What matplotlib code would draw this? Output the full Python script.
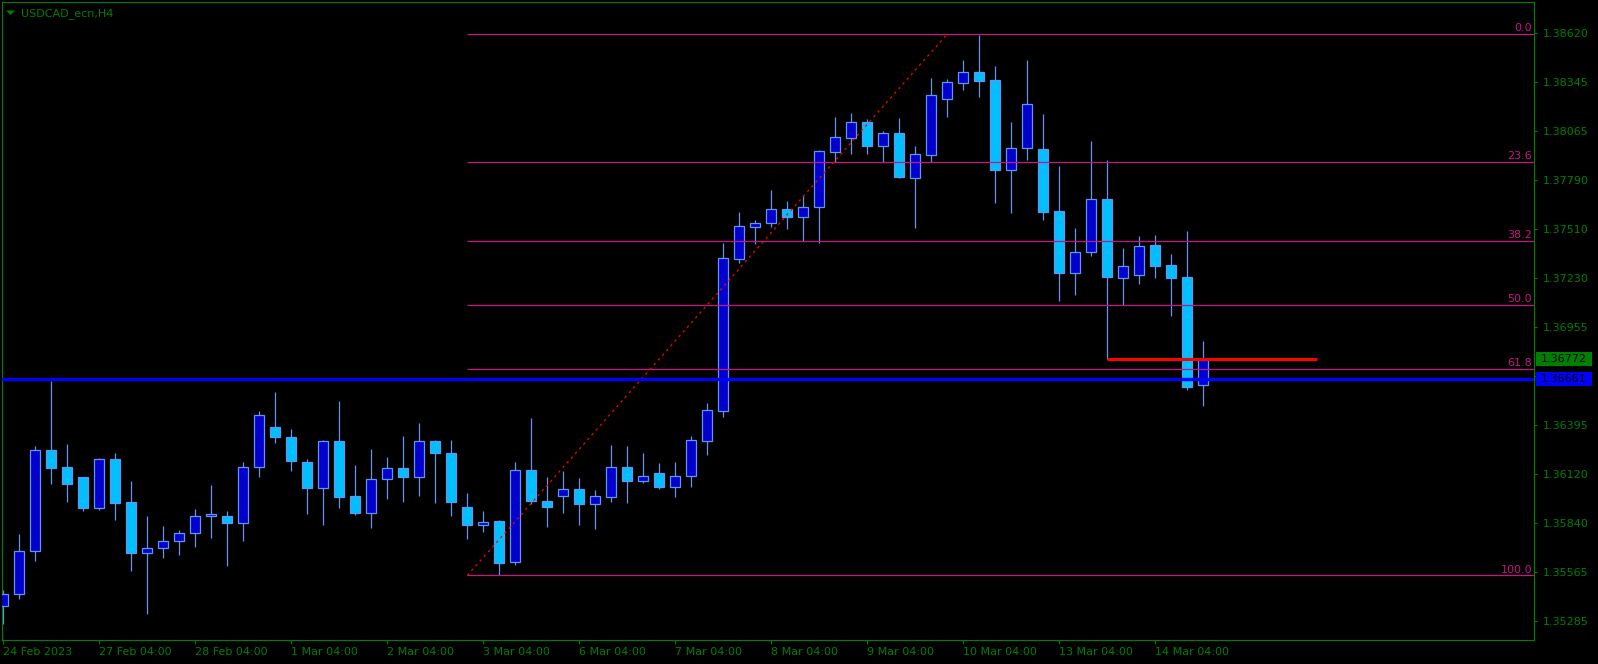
import matplotlib
matplotlib.use('Agg')
import matplotlib.pyplot as plt
from matplotlib.patches import Rectangle, Polygon
import matplotlib.transforms as mtransforms
import numpy as np

# ---------------- data ----------------
symbol_title = "USDCAD_ecn,H4"

opens = [
    1.35373, 1.35436, 1.35680, 1.36253, 1.36157, 1.36100, 1.35928, 1.36202, 1.35958, 1.35674,
    1.35697, 1.35742, 1.35782, 1.35884, 1.35884, 1.35839, 1.36157, 1.36384, 1.36327, 1.36185,
    1.36038, 1.36304, 1.35992, 1.35901, 1.36089, 1.36151, 1.36100, 1.36304, 1.36236, 1.35935,
    1.35833, 1.35852, 1.35621, 1.36145, 1.35969, 1.35996, 1.36032, 1.35950, 1.35990, 1.36162,
    1.36081, 1.36123, 1.36047, 1.36109, 1.36308, 1.36478, 1.37341, 1.37519, 1.37541, 1.37621,
    1.37579, 1.37636, 1.37948, 1.38028, 1.38115, 1.37982, 1.38052, 1.37801, 1.37931, 1.38249,
    1.38340, 1.38398, 1.38353, 1.37846, 1.37967, 1.37961, 1.37610, 1.37261, 1.37382, 1.37678,
    1.37233, 1.37250, 1.37417, 1.37303, 1.37235, 1.36622]

highs = [
    1.35460, 1.35778, 1.36278, 1.36647, 1.36289, 1.36100, 1.36213, 1.36238, 1.36079, 1.35880,
    1.35824, 1.35801, 1.35920, 1.36056, 1.35909, 1.36187, 1.36477, 1.36583, 1.36373, 1.36202,
    1.36312, 1.36533, 1.36170, 1.36261, 1.36214, 1.36335, 1.36408, 1.36310, 1.36310, 1.36011,
    1.35909, 1.35858, 1.36187, 1.36437, 1.36102, 1.36136, 1.36096, 1.36028, 1.36283, 1.36278,
    1.36238, 1.36181, 1.36187, 1.36335, 1.36522, 1.37432, 1.37606, 1.37560, 1.37731, 1.37668,
    1.37702, 1.37958, 1.38145, 1.38168, 1.38134, 1.38066, 1.38139, 1.37980, 1.38366, 1.38359,
    1.38468, 1.38612, 1.38434, 1.38117, 1.38468, 1.38162, 1.37867, 1.37515, 1.38009, 1.37901,
    1.37401, 1.37470, 1.37475, 1.37367, 1.37496, 1.36874]

lows = [
    1.35271, 1.35411, 1.35627, 1.36064, 1.35962, 1.35911, 1.35916, 1.35860, 1.35570, 1.35326,
    1.35644, 1.35661, 1.35706, 1.35757, 1.35598, 1.35740, 1.36104, 1.36297, 1.36138, 1.35894,
    1.35831, 1.35928, 1.35888, 1.35814, 1.35979, 1.35962, 1.35996, 1.35956, 1.35883, 1.35752,
    1.35792, 1.35546, 1.35602, 1.35952, 1.35818, 1.35899, 1.35829, 1.35808, 1.35960, 1.35954,
    1.36068, 1.36034, 1.35988, 1.36045, 1.36227, 1.36442, 1.37316, 1.37426, 1.37519, 1.37511,
    1.37443, 1.37432, 1.37891, 1.37937, 1.37937, 1.37890, 1.37801, 1.37517, 1.37890, 1.38147,
    1.38300, 1.38258, 1.37657, 1.37600, 1.37901, 1.37560, 1.37101, 1.37135, 1.37356, 1.36770,
    1.37078, 1.37197, 1.37233, 1.37017, 1.36597, 1.36507]

closes = [
    1.35436, 1.35680, 1.36253, 1.36155, 1.36064, 1.35928, 1.36202, 1.35956, 1.35672, 1.35697,
    1.35742, 1.35782, 1.35884, 1.35892, 1.35843, 1.36157, 1.36452, 1.36327, 1.36191, 1.36038,
    1.36304, 1.35987, 1.35901, 1.36089, 1.36151, 1.36100, 1.36304, 1.36236, 1.35958, 1.35833,
    1.35850, 1.35616, 1.36145, 1.35967, 1.35933, 1.36032, 1.35950, 1.35992, 1.36162, 1.36081,
    1.36111, 1.36047, 1.36111, 1.36310, 1.36480, 1.37343, 1.37524, 1.37541, 1.37621, 1.37579,
    1.37632, 1.37950, 1.38030, 1.38115, 1.37982, 1.38052, 1.37806, 1.37933, 1.38268, 1.38342,
    1.38398, 1.38351, 1.37846, 1.37967, 1.38217, 1.37608, 1.37261, 1.37382, 1.37678, 1.37239,
    1.37297, 1.37411, 1.37301, 1.37233, 1.36615, 1.36772]

date_tick_idx = [0, 6, 12, 18, 24, 30, 36, 42, 48, 54, 60, 66, 72]
date_tick_labels = ["24 Feb 2023", "27 Feb 04:00", "28 Feb 04:00", "1 Mar 04:00",
                    "2 Mar 04:00", "3 Mar 04:00", "6 Mar 04:00", "7 Mar 04:00",
                    "8 Mar 04:00", "9 Mar 04:00", "10 Mar 04:00", "13 Mar 04:00",
                    "14 Mar 04:00"]

price_ticks = [1.38620, 1.38345, 1.38065, 1.37790, 1.37510, 1.37230, 1.36955,
               1.36675, 1.36395, 1.36120, 1.35840, 1.35565, 1.35285]

fib_levels = [0.0, 23.6, 38.2, 50.0, 61.8, 100.0]
fib_high = 1.38616
fib_low = 1.35544
fib_start_idx = 29
fib_end_idx = 59

hline_price = 1.36661
red_seg_price = 1.36770
red_seg_start = 69
red_seg_end = 82.1
bid_price = 1.36772

# ---------------- style ----------------
W, H = 1598, 664
GREEN = '#008000'
BULL = '#0000CD'
BEAR = '#00BFFF'
EDGE = '#6495ED'
FIB = '#C71585'

fig = plt.figure(figsize=(W / 100, H / 100), dpi=100, facecolor='black')
ax_left, ax_right, ax_top, ax_bottom = 2.3, 1534.0, 2.3, 640.3
ax = fig.add_axes([ax_left / W, (H - ax_bottom) / H,
                   (ax_right - ax_left) / W, (ax_bottom - ax_top) / H])
ax.set_facecolor('black')

xmin, xmax = -0.0625, 95.67
ax.set_xlim(xmin, xmax)
ax.set_ylim(1.35176, 1.38796)

x = np.arange(len(opens))
o = np.array(opens); h = np.array(highs); l = np.array(lows); c = np.array(closes)
bull = c >= o

# wicks
ax.vlines(x, l, h, color=EDGE, linewidth=0.9, zorder=2)
# bodies
body_bottom = np.minimum(o, c)
body_height = np.abs(c - o)
colors = [BULL if b else BEAR for b in bull]
ax.bar(x, body_height, bottom=body_bottom, width=0.6, color=colors,
       edgecolor=EDGE, linewidth=0.9, zorder=3)

# fibonacci levels
rng = fib_high - fib_low
blend = mtransforms.blended_transform_factory(ax.transAxes, ax.transData)
for lev in fib_levels:
    p = fib_high - rng * lev / 100.0
    ax.hlines(p, fib_start_idx, xmax, color=FIB, linewidth=0.9, zorder=4)
    ax.text(1 - 2 / (ax_right - ax_left), p + 0.00003, f"{lev:.1f}", color=FIB,
            fontsize=8, ha='right', va='bottom', transform=blend, zorder=6)
# fib trend line (dotted red)
ax.plot([fib_start_idx, fib_end_idx], [fib_low, fib_high], color='#FF0000',
        linewidth=0.9, linestyle=(0, (2, 3)), zorder=5)

# blue horizontal line
ax.axhline(hline_price, color='#0000FF', linewidth=2.4, zorder=5)
# red segment
ax.hlines(red_seg_price, red_seg_start, red_seg_end, color='#FF0000', linewidth=2.2, zorder=6)

# axes styling
for s in ax.spines.values():
    s.set_color(GREEN)
    s.set_linewidth(0.8)
ax.yaxis.tick_right()
ax.set_yticks(price_ticks)
ax.set_yticklabels([f"{p:.5f}" for p in price_ticks])
ax.tick_params(axis='y', direction='out', length=2.5, width=0.8, pad=3.5,
               colors=GREEN, labelsize=8)
ax.set_xticks(date_tick_idx)
ax.set_xticklabels(date_tick_labels)
ax.tick_params(axis='x', direction='out', length=3, width=0.8, pad=2,
               colors=GREEN, labelsize=8)
for t in ax.get_xticklabels():
    t.set_horizontalalignment('left')

# price boxes on the axis
axw = ax_right - ax_left
px_per_unit = (ax_bottom - ax_top) / (1.38796 - 1.35176)
box_h = 14 / px_per_unit
for price, bg in [(bid_price, GREEN), (hline_price, '#0000FF')]:
    ax.add_patch(Rectangle((1 + 2 / axw, price - box_h / 2), 56 / axw, box_h,
                           transform=blend, facecolor=bg, edgecolor='none',
                           clip_on=False, zorder=7))
    ax.text(1 + 7 / axw, price, f"{price:.5f}", color='black', fontsize=8,
            ha='left', va='center', transform=blend, clip_on=False, zorder=8)

# title
fig.patches.append(Polygon([(6 / W, 1 - 10.5 / H), (15 / W, 1 - 10.5 / H),
                            (10.5 / W, 1 - 15 / H)], closed=True,
                           transform=fig.transFigure, facecolor=GREEN,
                           edgecolor='none'))
fig.text(21 / W, 1 - 13.3 / H, symbol_title, color=GREEN, fontsize=8,
         ha='left', va='center')

fig.savefig('out.png', dpi=100, facecolor='black')
